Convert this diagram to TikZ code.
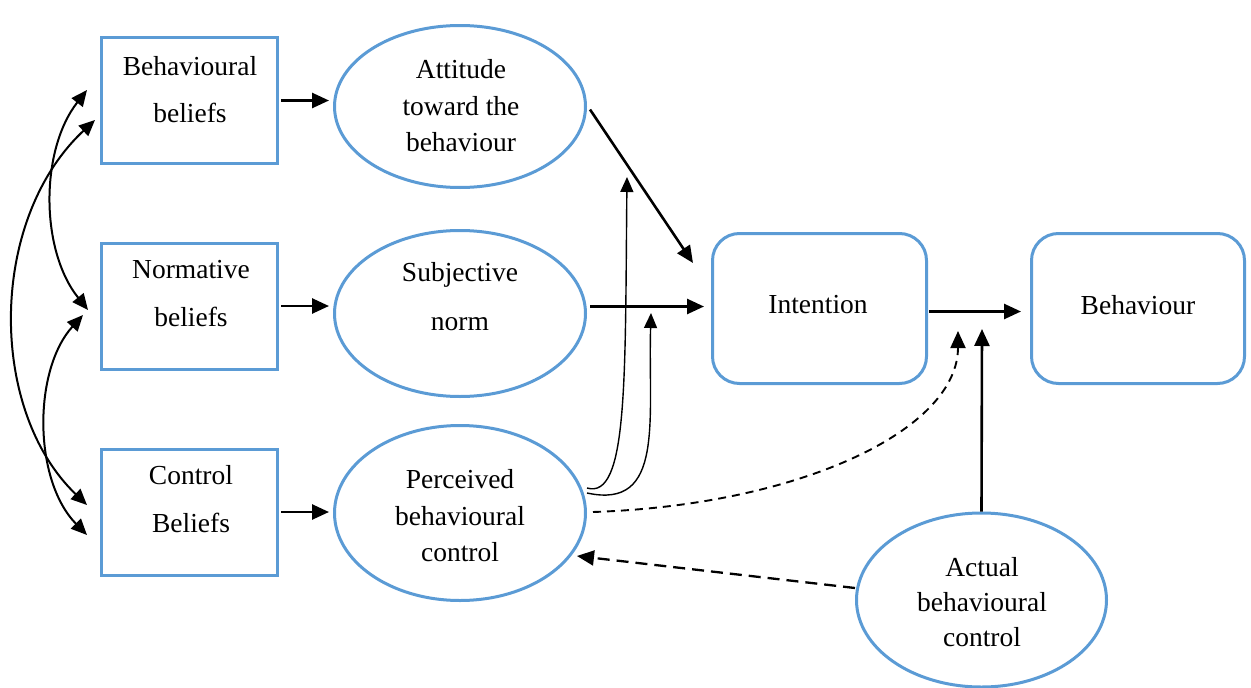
\documentclass[tikz,border=0pt]{standalone}
\usepackage{fontspec}
\setmainfont{Liberation Serif}
\usetikzlibrary{arrows.meta,shapes.geometric,calc}
\definecolor{boxblue}{RGB}{91,155,213}
\begin{document}
\begin{tikzpicture}[x=1pt,y=-1pt,
  lbl/.style={align=center,inner sep=0pt},
  lblA/.style={lbl,font=\fontsize{27.5}{47}\selectfont},
  lblB/.style={lbl,font=\fontsize{27.5}{36.5}\selectfont},
  beliefbox/.style={draw=boxblue,line width=3pt,inner sep=0pt,minimum width=176pt,minimum height=126pt},
  construct/.style={ellipse,draw=boxblue,line width=3pt,inner sep=0pt,minimum width=251pt},
  stage/.style={draw=boxblue,line width=3pt,rounded corners=27pt,inner sep=0pt,minimum height=150pt},
  link/.style={-{Triangle[length=17pt,width=15pt]},line width=2.6pt},
  thinlink/.style={-{Triangle[length=15pt,width=13pt]},line width=1.4pt},
  twoway/.style={{Triangle[length=16pt,width=14pt]}-{Triangle[length=16pt,width=14pt]},line width=2pt},
]
\useasboundingbox (0,0) rectangle (1251,688);

% belief boxes
\node[beliefbox] (bb) at (189.5,100.5) {};
\node[beliefbox] (nb) at (189.5,306) {};
\node[beliefbox] (cb) at (189.5,512) {};
\node[lblA] (bbt) at (190,90) {Behavioural\\beliefs};
\node[lblA,font=\fontsize{27.5}{48}\selectfont] (nbt) at (191,294) {Normative\\beliefs};
\node[lblA,font=\fontsize{27.5}{48}\selectfont] (cbt) at (191,499) {Control\\Beliefs};

% constructs
\node[construct,minimum height=162pt] (att) at (460,106.5) {};
\node[construct,minimum height=166pt] (sn) at (460,313.5) {};
\node[construct,minimum height=175pt] (pbc) at (460,513) {};
\node[construct,minimum width=250pt,minimum height=174pt] (act) at (981.5,600) {};
\node[lblB] (attt) at (461,106) {Attitude\\toward the\\behaviour};
\node[lbl,font=\fontsize{27.5}{49}\selectfont] (snt) at (460,297) {Subjective\\norm};
\node[lblB] (pbct) at (460,516) {Perceived\\behavioural\\control};
\node[lbl,font=\fontsize{27.5}{35}\selectfont] (actt) at (982,602) {Actual\\behavioural\\control};

% intention and behaviour
\node[stage,minimum width=214pt] (int) at (819.5,308.5) {};
\node[stage,minimum width=213pt] (beh) at (1138,308.5) {};
\node[lbl,font=\fontsize{27.5}{33}\selectfont] (intt) at (818,305) {Intention};
\node[lbl,font=\fontsize{27.5}{33}\selectfont] (beht) at (1138,305) {Behaviour};

% free ends
\coordinate (bbU) at (87,90);
\coordinate (bbL) at (95,120);
\coordinate (nbU) at (88,310);
\coordinate (nbL) at (83,315);
\coordinate (cbU) at (87,505);
\coordinate (cbL) at (87,535);
\coordinate (attHit) at (627,177);
\coordinate (snHit) at (651,313);
\coordinate (intHitD) at (958,331);
\coordinate (intHit) at (982,329);
\coordinate (pbcIn) at (577,556);

% correlations between beliefs
\draw[twoway] (bbU) .. controls (40,150) and (40,250) .. (nbU);
\draw[twoway] (bbL) .. controls (-12,220) and (-12,410) .. (cbU);
\draw[twoway] (nbL) .. controls (33,370) and (33,480) .. (cbL);

% beliefs to constructs
\draw[link] ($(bb.east)+(2,0)$) -- ($(bb.east -| att.west)+(-4,0)$);
\draw[link] ($(nb.east)+(2,0)$) -- ($(nb.east -| sn.west)+(-4,0)$);
\draw[link] ($(cb.east)+(2,0)$) -- ($(cb.east -| pbc.west)+(-4,0)$);

% constructs to intention
\draw[link] ($(att.east)+(3,3)$) -- ($(int.north west)+(-18,31)$);
\draw[link] ($(sn.east)+(3,-7)$) -- ($(int.west)+(-7,-2)$);
\draw[link] ($(int.east)+(1,3)$) -- ($(beh.west)+(-9,3)$);
\draw[link] (act.north) -- (intHit);

% perceived control moderating paths
\draw[thinlink] ($(pbc.east)+(0,-25)$) .. controls (628,500) and (625,380) .. (attHit);
\draw[thinlink] ($(pbc.east)+(0,-20)$) .. controls (665,510) and (648,420) .. (snHit);
\draw[link,line width=1.9pt,dash pattern=on 8pt off 6pt] ($(pbc.east)+(6,-1)$) .. controls (800,505) and (958,430) .. (intHitD);
\draw[link,line width=2.3pt,dash pattern=on 12pt off 7pt] ($(act.west)+(0,-12)$) -- (pbcIn);
\end{tikzpicture}
\end{document}
